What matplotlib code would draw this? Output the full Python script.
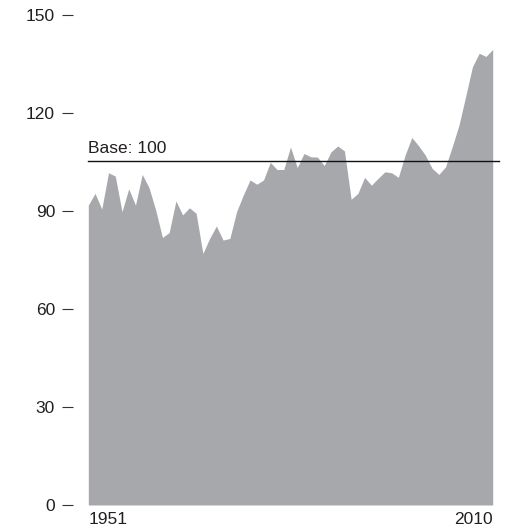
import matplotlib
matplotlib.use("Agg")
import matplotlib.pyplot as plt
import numpy as np

plt.rcParams['font.family'] = ['Liberation Sans', 'DejaVu Sans']

# Index values (left to right)
values = [91.8, 95.4, 90.6, 101.7, 100.7, 89.8, 96.8, 91.8, 101.2, 97.2,
          90.3, 81.9, 83.4, 93.1, 88.8, 91.0, 89.3, 77.0, 81.6, 85.4,
          81.1, 81.6, 89.8, 94.9, 99.5, 98.2, 99.5, 104.9, 102.7, 102.7,
          109.6, 103.3, 107.6, 106.6, 106.5, 103.9, 108.1, 109.9, 108.4, 93.6,
          95.4, 100.3, 97.9, 100.0, 102.0, 101.7, 100.3, 107.1, 112.5, 110.0,
          107.1, 103.1, 101.2, 103.5, 109.7, 116.3, 125.2, 134.2, 138.3, 137.3,
          139.5]
x_labels = ["1951", "2010"]
y_ticks = [0, 30, 60, 90, 120, 150]
base_level = 105.3
base_label = "Base: 100"

W, H = 512, 530
fig = plt.figure(figsize=(W / 100, H / 100), dpi=100)
left, right = 88.3, 492.7
top, bottom = 15, 505
ax = fig.add_axes([left / W, (H - bottom) / H, (right - left) / W, (bottom - top) / H])

x = np.arange(len(values))
ax.fill_between(x, 0, values, color='#a7a8ac', linewidth=0)
ax.set_xlim(0, len(values) - 1)
ax.set_ylim(0, 150)

# base line, slightly extending past the right edge
ax.axhline(base_level, xmin=0, xmax=(499 - left) / (right - left), color='#111111',
           linewidth=1.0, clip_on=False)
ax.annotate(base_label, xy=(0, base_level), xytext=(0, 5.5), textcoords='offset points',
            ha='left', va='baseline', fontsize=12.5, color='#231f20')

for s in ['top', 'right', 'bottom']:
    ax.spines[s].set_visible(False)
ax.spines['left'].set_position(('outward', 11))
ax.spines['left'].set_visible(False)

ax.set_yticks(y_ticks)
ax.set_yticklabels([str(v) for v in y_ticks])
ax.tick_params(axis='y', direction='out', length=7.9, width=0.8, color='#333333',
               pad=5, labelsize=12.5, labelcolor='#231f20')

ax.set_xticks([0, len(values) - 1])
ax.set_xticklabels(x_labels)
ax.tick_params(axis='x', length=0, pad=5.0, labelsize=12.5, labelcolor='#231f20')
xt = ax.get_xticklabels()
xt[0].set_ha('left')
xt[1].set_ha('right')

fig.savefig('out.png', dpi=100)
